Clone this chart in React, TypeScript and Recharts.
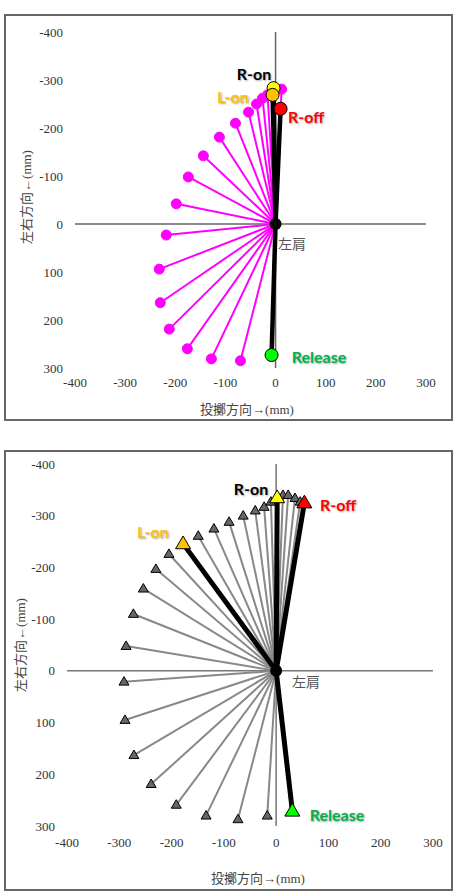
import React from 'react';
import { ScatterChart, Scatter, XAxis, YAxis, ReferenceLine } from 'recharts';

const axisTicks = [-400, -300, -200, -100, 0, 100, 200, 300];

// upper panel: left-hand trajectory (magenta spokes)
const topArmX = [-70, -128, -176, -212, -230, -232, -218, -198, -174, -144, -112, -80, -54, -38, -26, -16, -4, 12];
const topArmY = [285, 281, 260, 219, 164, 94, 23, -42, -98, -142, -181, -210, -233, -250, -262, -269, -280, -281];
const topKeyNames = ['R-on', 'L-on', 'R-off', 'Release'];
const topKeyX = [-4, -6, 10, -8];
const topKeyY = [-283, -269, -240, 273];

// lower panel: gray triangle spokes
const bottomArmX = [-17, -73, -134, -191, -239, -272, -289, -291, -287, -273, -254, -230, -205, -149, -119, -90, -63, -40, -23, -10, 13, 23, 36, 46];
const bottomArmY = [280, 287, 280, 259, 219, 163, 95, 21, -48, -110, -159, -197, -226, -261, -275, -288, -300, -310, -317, -327, -340, -340, -334, -327];
const bottomKeyNames = ['R-on', 'L-on', 'R-off', 'Release'];
const bottomKeyX = [2, -178, 54, 31];
const bottomKeyY = [-335, -246, -325, 271];

const keyFill: Record<string, string> = { 'R-on': '#ffff00', 'L-on': '#ffc000', 'R-off': '#ff0000', 'Release': '#00ff00' };
const keyText: Record<string, string> = { 'R-on': '#000000', 'L-on': '#ffc000', 'R-off': '#ff0000', 'Release': '#00b050' };

const spoke = (x: number, y: number) => [{ x: 0, y: 0, tip: false }, { x, y, tip: true }];

const circleShape = (r: number, fill: string, stroke: string) => (p: any) =>
  p.payload && p.payload.tip ? <circle cx={p.cx} cy={p.cy} r={r} fill={fill} stroke={stroke} strokeWidth={1} /> : <g />;

const triShape = (w: number, fill: string) => (p: any) => {
  if (!p.payload || !p.payload.tip) return <g />;
  const h = w * 0.85;
  const pts = `${p.cx},${p.cy - h * 0.6} ${p.cx - w / 2},${p.cy + h * 0.4} ${p.cx + w / 2},${p.cy + h * 0.4}`;
  return <polygon points={pts} fill={fill} stroke="#000" strokeWidth={1} />;
};

const centerDot = (p: any) => <circle cx={p.cx} cy={p.cy} r={6} fill="#000" />;

const serif = '"Liberation Serif", "DejaVu Serif", "Noto Sans CJK JP", serif';

// serif tick text drawn by hand so the font sticks
const SerifTick = (side: 'x' | 'y') => (p: any) => (
  <text x={p.x} y={p.y} dy={side === 'x' ? '0.71em' : '0.355em'} textAnchor={side === 'x' ? 'middle' : 'end'}
    fill="#333" fontSize={13} fontFamily={serif}>
    {p.payload.value}
  </text>
);

function Txt({ x, y, children, style }: any) {
  return (
    <div style={{ position: 'absolute', left: x, top: y, transform: 'translate(-50%,-50%)', whiteSpace: 'nowrap', ...style }}>
      {children}
    </div>
  );
}

const keyLabel = (name: string) => ({
  color: keyText[name],
  fontFamily: 'Lato, sans-serif',
  fontWeight: 700,
  fontSize: 16,
  textShadow: '1px 1px 2px rgba(0,0,0,0.35)',
});

const titleStyle = { fontFamily: serif, fontSize: 13, color: '#444' };

export default function App() {
  const boxStyle: React.CSSProperties = {
    position: 'absolute', left: 4, width: 449, border: '2px solid #666', boxSizing: 'border-box', background: '#fff',
  };
  return (
    <div style={{ position: 'absolute', left: 0, top: 0, width: 453, height: 893, background: '#fff' }}>
      {/* upper panel */}
      <div style={{ ...boxStyle, top: 14, height: 407 }}>
        <ScatterChart width={445} height={403} margin={{ top: 16, right: 25, left: 0, bottom: 0 }}>
          <XAxis type="number" dataKey="x" domain={[-400, 300]} ticks={axisTicks} interval={0} allowDataOverflow
            axisLine={false} tickLine={false} tickMargin={4} height={51} tick={SerifTick('x')} />
          <YAxis type="number" dataKey="y" domain={[-400, 300]} ticks={axisTicks} interval={0} allowDataOverflow reversed
            axisLine={false} tickLine={false} tickMargin={6} width={69} tick={SerifTick('y')} />
          <ReferenceLine x={0} stroke="#666" strokeWidth={1.5} />
          <ReferenceLine y={0} stroke="#666" strokeWidth={1.5} />
          {topArmX.map((x, i) => (
            <Scatter key={'ta' + i} data={spoke(x, topArmY[i])} isAnimationActive={false}
              line={{ stroke: '#ff00ff', strokeWidth: 2 }} shape={circleShape(5, '#ff00ff', '#ff00ff')} />
          ))}
          {topKeyNames.map((n, i) => (
            <Scatter key={'tk' + i} data={spoke(topKeyX[i], topKeyY[i])} isAnimationActive={false}
              line={{ stroke: '#000', strokeWidth: 4.5 }} shape={circleShape(6.5, keyFill[n], '#000')} />
          ))}
          <Scatter data={[{ x: 0, y: 0 }]} isAnimationActive={false} shape={centerDot} />
        </ScatterChart>
      </div>
      <Txt x={25} y={197} style={{ ...titleStyle, transform: 'translate(-50%,-50%) rotate(-90deg)' }}>左右方向←(mm)</Txt>
      <Txt x={247} y={408} style={titleStyle}>投擲方向→(mm)</Txt>
      <Txt x={292} y={243} style={{ ...titleStyle, fontSize: 14, color: '#555' }}>左肩</Txt>
      <Txt x={254} y={73} style={keyLabel('R-on')}>R-on</Txt>
      <Txt x={233} y={96} style={keyLabel('L-on')}>L-on</Txt>
      <Txt x={306} y={116} style={keyLabel('R-off')}>R-off</Txt>
      <Txt x={319} y={356} style={keyLabel('Release')}>Release</Txt>

      {/* lower panel */}
      <div style={{ ...boxStyle, top: 450, height: 441 }}>
        <ScatterChart width={445} height={437} margin={{ top: 12, right: 18, left: 0, bottom: 0 }}>
          <XAxis type="number" dataKey="x" domain={[-400, 300]} ticks={axisTicks} interval={0} allowDataOverflow
            axisLine={false} tickLine={false} tickMargin={6} height={63} tick={SerifTick('x')} />
          <YAxis type="number" dataKey="y" domain={[-400, 300]} ticks={axisTicks} interval={0} allowDataOverflow reversed
            axisLine={false} tickLine={false} tickMargin={6} width={61} tick={SerifTick('y')} />
          <ReferenceLine x={0} stroke="#777" strokeWidth={1.5} />
          <ReferenceLine y={0} stroke="#777" strokeWidth={1.5} />
          {bottomArmX.map((x, i) => (
            <Scatter key={'ba' + i} data={spoke(x, bottomArmY[i])} isAnimationActive={false}
              line={{ stroke: '#888', strokeWidth: 2 }} shape={triShape(10, '#666')} />
          ))}
          {bottomKeyNames.map((n, i) => (
            <Scatter key={'bk' + i} data={spoke(bottomKeyX[i], bottomKeyY[i])} isAnimationActive={false}
              line={{ stroke: '#000', strokeWidth: 5 }} shape={triShape(15, keyFill[n])} />
          ))}
          <Scatter data={[{ x: 0, y: 0 }]} isAnimationActive={false} shape={centerDot} />
        </ScatterChart>
      </div>
      <Txt x={19} y={645} style={{ ...titleStyle, transform: 'translate(-50%,-50%) rotate(-90deg)' }}>左右方向←(mm)</Txt>
      <Txt x={258} y={877} style={titleStyle}>投擲方向→(mm)</Txt>
      <Txt x={306} y={681} style={{ ...titleStyle, fontSize: 14, color: '#555' }}>左肩</Txt>
      <Txt x={251} y={488} style={keyLabel('R-on')}>R-on</Txt>
      <Txt x={153} y={531} style={keyLabel('L-on')}>L-on</Txt>
      <Txt x={338} y={504} style={keyLabel('R-off')}>R-off</Txt>
      <Txt x={337} y={814} style={keyLabel('Release')}>Release</Txt>
    </div>
  );
}
